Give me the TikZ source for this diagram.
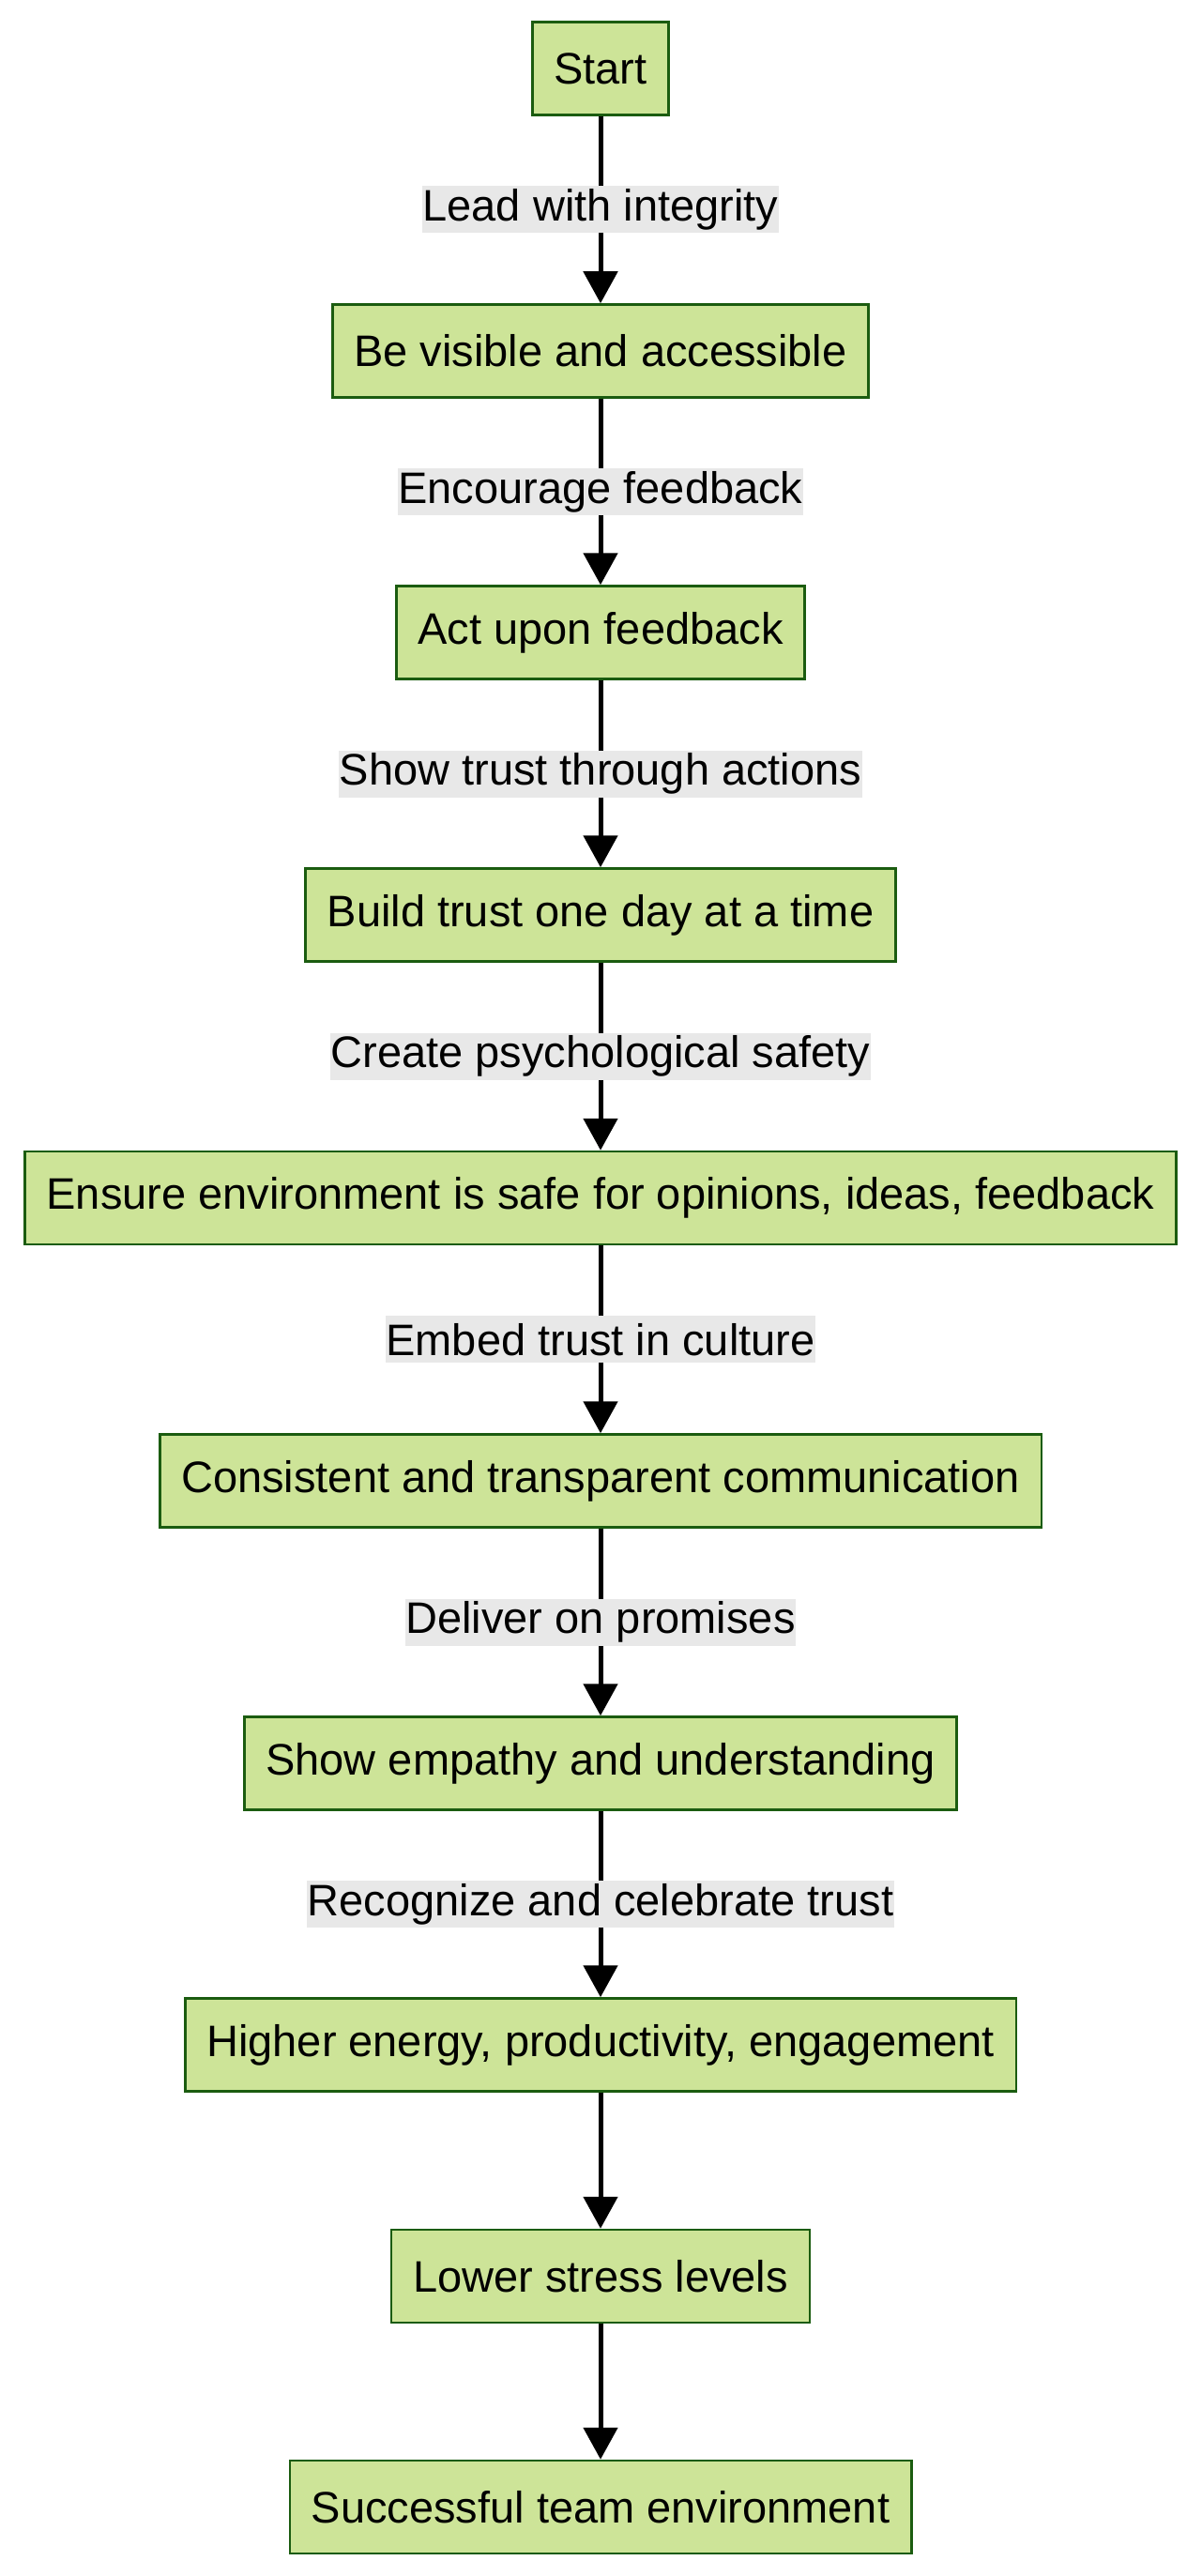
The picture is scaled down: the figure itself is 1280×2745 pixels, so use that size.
\documentclass[tikz,border=0pt]{standalone}
\usepackage{fontspec}
\setmainfont{Liberation Sans}
\usetikzlibrary{arrows.meta}
\definecolor{boxfill}{HTML}{CDE498}
\definecolor{boxline}{HTML}{1B5C10}
\definecolor{labelbg}{HTML}{E8E8E8}
\tikzset{
  stepbox/.style={draw=boxline, line width=2.5pt, fill=boxfill, rectangle,
    minimum height=99pt, inner xsep=23pt, inner ysep=0pt,
    font=\fontsize{47}{54}\selectfont, text=black},
  flow/.style={line width=5pt, -{Triangle[width=36pt,length=34pt]}},
  lbl/.style={fill=labelbg, inner xsep=0.5pt, inner ysep=0pt, minimum height=50pt,
    font=\fontsize{47}{54}\selectfont, text=black}
}
\begin{document}
\begin{tikzpicture}[x=1pt,y=-1pt]
\useasboundingbox (0,0) rectangle (1280,2745);
\fill[white] (0,0) rectangle (1280,2745);
\node[stepbox] (n1) at (640,73) {Start};
\node[stepbox] (n2) at (640,374) {Be visible and accessible};
\node[stepbox] (n3) at (640,674) {Act upon feedback};
\node[stepbox] (n4) at (640,975) {Build trust one day at a time};
\node[stepbox] (n5) at (640,1276.5) {Ensure environment is safe for opinions, ideas, feedback};
\node[stepbox] (n6) at (640,1578) {Consistent and transparent communication};
\node[stepbox] (n7) at (640,1879) {Show empathy and understanding};
\node[stepbox] (n8) at (640,2179) {Higher energy, productivity, engagement};
\node[stepbox] (n9) at (640,2425.5) {Lower stress levels};
\node[stepbox] (n10) at (640,2671.5) {Successful team environment};
\draw[flow] (n1) -- node[lbl] {Lead with integrity} (n2);
\draw[flow] (n2) -- node[lbl] {Encourage feedback} (n3);
\draw[flow] (n3) -- node[lbl] {Show trust through actions} (n4);
\draw[flow] (n4) -- node[lbl] {Create psychological safety} (n5);
\draw[flow] (n5) -- node[lbl] {Embed trust in culture} (n6);
\draw[flow] (n6) -- node[lbl] {Deliver on promises} (n7);
\draw[flow] (n7) -- node[lbl] {Recognize and celebrate trust} (n8);
\draw[flow] (n8) -- (n9);
\draw[flow] (n9) -- (n10);
\end{tikzpicture}
\end{document}
